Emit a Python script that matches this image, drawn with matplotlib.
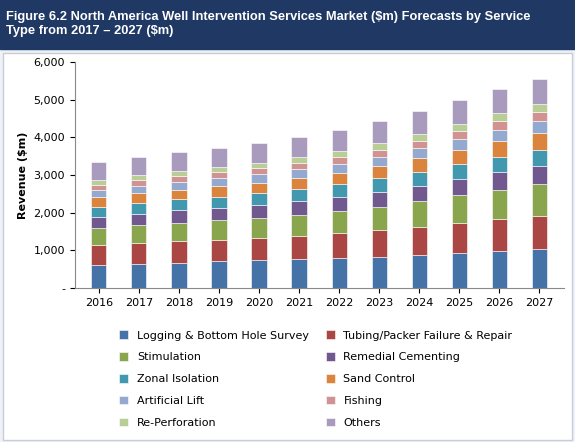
import matplotlib
matplotlib.use("Agg")
import matplotlib.pyplot as plt
from matplotlib.ticker import FuncFormatter
import numpy as np

years = [str(y) for y in range(2016, 2028)]
series_names = ["Logging & Bottom Hole Survey", "Tubing/Packer Failure & Repair", "Stimulation",
                "Remedial Cementing", "Zonal Isolation", "Sand Control", "Artificial Lift",
                "Fishing", "Re-Perforation", "Others"]
logging = [610, 650, 680, 710, 740, 770, 800, 840, 880, 940, 990, 1045]
tubing = [530, 550, 570, 580, 600, 620, 650, 690, 740, 790, 840, 876]
stimulation = [450, 470, 490, 510, 530, 560, 590, 630, 680, 730, 780, 830]
cementing = [300, 310, 320, 330, 340, 350, 370, 390, 410, 430, 460, 486]
zonal = [275, 285, 295, 300, 310, 320, 340, 360, 380, 400, 420, 435]
sand = [240, 250, 260, 270, 280, 300, 310, 330, 350, 380, 410, 433]
lift = [195, 200, 210, 215, 220, 230, 240, 250, 270, 285, 300, 318]
fishing = [143, 145, 150, 155, 160, 165, 175, 185, 195, 210, 230, 247]
reperf = [133, 135, 140, 145, 150, 155, 165, 175, 185, 195, 210, 223]
others = [478, 480, 490, 500, 520, 540, 560, 580, 610, 620, 640, 645]
data = [logging, tubing, stimulation, cementing, zonal, sand, lift, fishing, reperf, others]
colors = ["#4572a7", "#aa4643", "#89a54e", "#71588f", "#4198af", "#db843d",
          "#93a9cf", "#d19392", "#b9cd96", "#a99bbd"]

fig = plt.figure(figsize=(5.75, 4.42), dpi=100)
fig.patch.set_facecolor("#eef1f6")
fig.add_artist(plt.Rectangle((0, 0.89), 1, 0.11, transform=fig.transFigure, color="#1f3864", zorder=0))
fig.text(0.01, 0.945, "Figure 6.2 North America Well Intervention Services Market ($m) Forecasts by Service\nType from 2017 \u2013 2027 ($m)",
         color="white", fontsize=9.3, fontweight="bold", va="center", ha="left", linespacing=1.25,
         family="Liberation Sans")
fig.add_artist(plt.Rectangle((0.005, 0.005), 0.99, 0.875, transform=fig.transFigure,
                             facecolor="white", edgecolor="#c8cdd8", zorder=0))

ax = fig.add_axes([0.13, 0.348, 0.85, 0.512])
x = np.arange(len(years))
bottom = np.zeros(len(years))
handles = []
for name, vals, c in zip(series_names, data, colors):
    h = ax.bar(x, vals, 0.38, bottom=bottom, color=c, edgecolor="white", linewidth=0.4, label=name)
    handles.append(h)
    bottom += np.array(vals)
ax.set_xticks(x)
ax.set_xticklabels(years, fontsize=8)
ax.set_xlim(-0.6, len(years) - 0.4)
ax.set_ylim(0, 6000)
ax.set_yticks(range(0, 6001, 1000))
ax.yaxis.set_major_formatter(FuncFormatter(lambda v, p: "-" if v == 0 else f"{int(v):,}"))
ax.tick_params(axis="y", labelsize=8)
ax.set_ylabel("Revenue ($m)", fontsize=8, fontweight="bold")
for s in ["top", "right"]:
    ax.spines[s].set_visible(False)
ax.spines["left"].set_color("#888888")
ax.spines["bottom"].set_color("#888888")
ax.set_facecolor("white")

order = [0, 2, 4, 6, 8, 1, 3, 5, 7, 9]
fig.legend(handles=[handles[i] for i in order], labels=[series_names[i] for i in order],
           loc="upper left", bbox_to_anchor=(0.19, 0.275),
           ncol=2, frameon=False, fontsize=8, handlelength=0.8, handleheight=0.8,
           columnspacing=1.5, labelspacing=1.05)
fig.savefig("out.png", dpi=100, facecolor=fig.get_facecolor())
